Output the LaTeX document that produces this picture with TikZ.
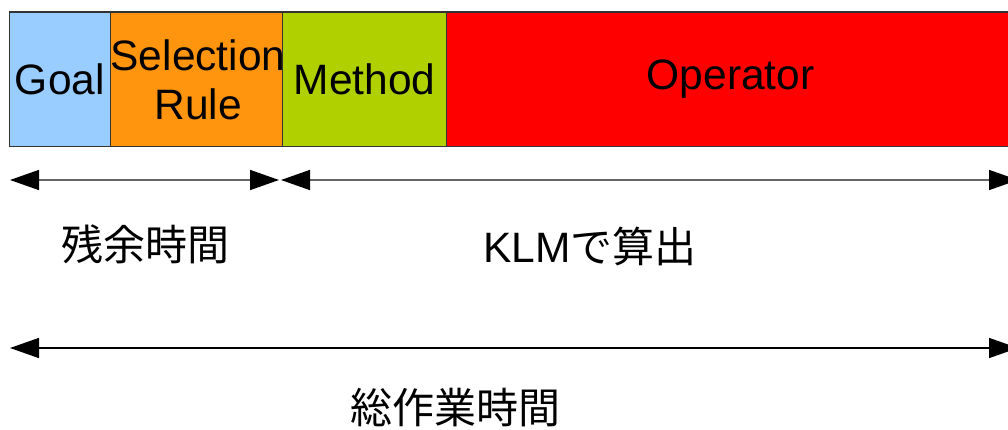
\documentclass[tikz,border=0pt]{standalone}
\usepackage{fontspec}
\setmainfont{Liberation Sans}
\newfontfamily\jp{Noto Sans CJK JP}
\usetikzlibrary{arrows.meta}
\definecolor{goalblue}{HTML}{99CCFF}
\definecolor{selorange}{HTML}{FF950E}
\definecolor{methgreen}{HTML}{B0D000}
\definecolor{opred}{HTML}{FF0000}
\begin{document}
\begin{tikzpicture}[x=1pt,y=-1pt]
  \tikzstyle{blk}=[draw=black!80, line width=1.2pt, minimum height=134.5pt,
    inner sep=0pt, anchor=north west, align=center,
    font=\fontsize{42.5}{49}\selectfont]
  \tikzstyle{span}=[{Triangle[length=29pt,width=20pt,color=black]}-{Triangle[length=29pt,width=20pt,color=black]},
    line width=1.5pt]
  \tikzstyle{lbl}=[font=\jp\fontsize{42}{49}\selectfont, inner sep=0pt]
  \useasboundingbox (0,0) rectangle (1008,430);
  \clip (0,0) rectangle (1008,430);
  \foreach \n/\x/\w/\c/\t in {goal/8.5/101.5/goalblue/Goal,
      sel/110/172/selorange/{Selection\\Rule},
      meth/282/164/methgreen/Method,
      op/446/568/opred/Operator}
    \node[blk, fill=\c, minimum width=\w pt] 
      (\n) at (\x,11.5) {\t};
  \foreach \p/\x/\y in {a1/10/180,a2/279/180,b1/281/180,
      b2/1018/180,c1/10/348,c2/1018/348}
    \coordinate (\p) at (\x,\y);
  \draw[span, black!60] (a1) -- (a2);
  \draw[span, black!60] (b1) -- (b2);
  \draw[span] (c1) -- (c2);
  \node[lbl] (rest) at (145,244) {残余時間};
  \node[lbl] (klm) at (590,246) {{\rmfamily\fontsize{42.5}{49}\selectfont KLM}で算出};
  \node[lbl] (total) at (455,408) {総作業時間};
\end{tikzpicture}
\end{document}
